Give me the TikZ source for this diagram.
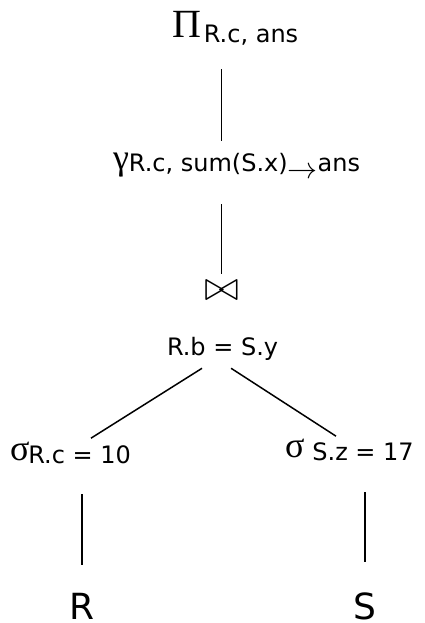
\RequirePackage{fix-cm}
\documentclass[tikz,border=0pt]{standalone}
\usepackage{fontspec}
\setmainfont{DejaVu Sans}
\newfontfamily\greekfont{Liberation Serif}
\newcommand\bigGreek[2]{{\fontsize{#1}{#1}\selectfont\greekfont #2}}
\tikzset{
  lbl/.style={inner sep=0pt, outer sep=0pt, anchor=base west, font=\fontsize{24}{28}\selectfont},
  leaf/.style={inner sep=0pt, outer sep=0pt, anchor=base, font=\fontsize{36}{40}\selectfont},
  edge/.style={line width=1.5pt, black},
}
\begin{document}
\begin{tikzpicture}[x=1pt,y=-1pt]
\useasboundingbox (0,0) rectangle (425,623);
\node[lbl] (pi) at (172,38) {\bigGreek{40}{Π}\hspace{3pt}\raisebox{-5pt}{R.c, ans}};
\node[lbl] (gamma) at (113,169) {\bigGreek{36}{γ}\hspace{0pt}\raisebox{-2pt}{R.c, sum(S.x)\raisebox{-7pt}{\fontsize{30}{30}\selectfont$\rightarrow$}ans}};
\node[inner sep=0pt, outer sep=0pt, font=\fontsize{42}{42}\selectfont] (join) at (221.5,291) {$\bowtie$};
\node[lbl] (cond) at (167,355) {R.b = S.y};
\node[lbl] (sigl) at (10,460) {\bigGreek{36}{σ}\hspace{-1pt}\raisebox{-3pt}{R.c = 10}};
\node[lbl] (sigr) at (285,457) {\bigGreek{36}{σ}\hspace{8pt}\raisebox{-3pt}{S.z = 17}};
\node[leaf] (R) at (82,619) {R};
\node[leaf] (S) at (365,619) {S};
\draw[edge, shorten <=23.6pt, shorten >=11.5pt] (join |- pi.south) -- (join |- gamma.north);
\draw[edge, shorten <=26pt, shorten >=7pt] (join |- gamma.south) -- (join.north);
\draw[edge] ([shift={(35,8.3)}]cond.south west) -- ([shift={(81,-3.4)}]sigl.north west);
\draw[edge] ([shift={(-47,8.3)}]cond.south east) -- ([shift={(51,-2.4)}]sigr.north west);
\draw[edge, shorten <=31pt, shorten >=28pt] (R |- sigl.south) -- (R.north);
\draw[edge, shorten <=32pt, shorten >=30pt] (S |- sigr.south) -- (S.north);
\end{tikzpicture}
\end{document}
